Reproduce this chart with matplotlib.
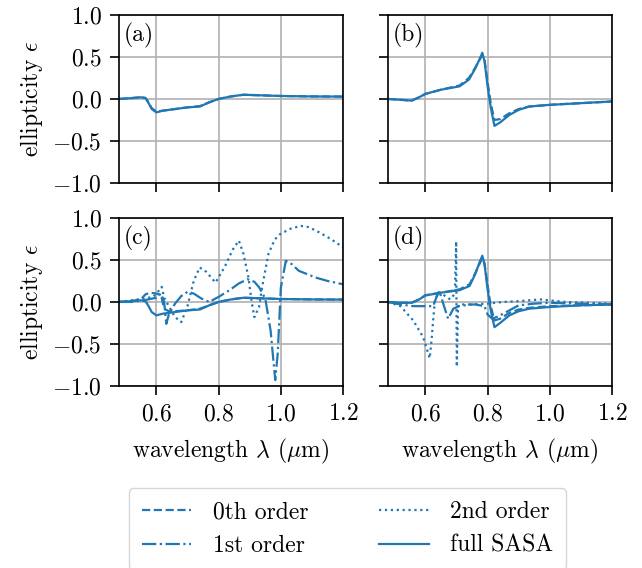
import numpy as np
import matplotlib
matplotlib.use('Agg')
import matplotlib.pyplot as plt

plt.rcParams['font.family'] = ['cmr10', 'DejaVu Serif']
plt.rcParams['mathtext.fontset'] = 'cm'
plt.rcParams['axes.formatter.use_mathtext'] = True
plt.rcParams['font.size'] = 17

blue = '#1f77b4'

# (a)
xa = [0.48, 0.52, 0.55, 0.565, 0.575, 0.585, 0.6, 0.62, 0.66, 0.70, 0.74, 0.77, 0.80, 0.84, 0.88, 0.92, 0.96, 1.0, 1.1, 1.2]
a_full = [0.0, 0.01, 0.02, 0.01, -0.05, -0.12, -0.16, -0.14, -0.12, -0.10, -0.09, -0.04, 0.0, 0.03, 0.05, 0.045, 0.04, 0.035, 0.03, 0.028]
a_0th = [0.0, 0.01, 0.02, 0.012, -0.04, -0.11, -0.15, -0.14, -0.12, -0.10, -0.085, -0.04, 0.0, 0.03, 0.05, 0.045, 0.04, 0.035, 0.03, 0.028]

# (b)
xb = [0.48, 0.52, 0.556, 0.58, 0.60, 0.65, 0.71, 0.74, 0.76, 0.775, 0.783, 0.79, 0.80, 0.81, 0.822, 0.84, 0.87, 0.90, 0.934, 1.0, 1.1, 1.2]
b_full = [0.0, -0.01, -0.02, 0.02, 0.06, 0.11, 0.15, 0.23, 0.36, 0.48, 0.55, 0.45, 0.15, -0.10, -0.32, -0.28, -0.19, -0.13, -0.09, -0.07, -0.05, -0.03]
b_0th = [0.0, -0.01, -0.02, 0.02, 0.06, 0.11, 0.16, 0.25, 0.37, 0.47, 0.52, 0.47, 0.20, -0.05, -0.25, -0.24, -0.17, -0.12, -0.09, -0.07, -0.05, -0.03]

# (c)
xc = xa
c_full = a_full
xc0 = [0.48, 0.52, 0.55, 0.565, 0.58, 0.60, 0.615, 0.625, 0.64, 0.66, 0.70, 0.74, 0.77, 0.80, 0.84, 0.88, 0.92, 0.96, 1.0, 1.1, 1.2]
c_0th = [0.0, 0.01, 0.03, 0.09, 0.11, 0.10, 0.08, -0.08, -0.11, -0.11, -0.10, -0.08, -0.04, 0.0, 0.03, 0.05, 0.045, 0.04, 0.035, 0.03, 0.028]
xc1 = [0.48, 0.52, 0.56, 0.60, 0.615, 0.625, 0.632, 0.64, 0.66, 0.68, 0.70, 0.72, 0.745, 0.77, 0.80, 0.835, 0.865, 0.893, 0.915, 0.93, 0.95, 0.967, 0.982, 0.99, 1.0, 1.016, 1.035, 1.058, 1.112, 1.15, 1.2]
c_1st = [0.0, 0.0, 0.02, 0.05, 0.1, 0.0, -0.26, -0.15, -0.02, 0.07, 0.12, 0.1, 0.04, 0.0, 0.06, 0.14, 0.22, 0.27, 0.24, 0.175, 0.04, -0.34, -0.93, -0.61, 0.17, 0.49, 0.45, 0.37, 0.29, 0.25, 0.21]
xc2 = [0.48, 0.52, 0.56, 0.59, 0.605, 0.617, 0.625, 0.64, 0.66, 0.68, 0.70, 0.72, 0.739, 0.76, 0.79, 0.82, 0.845, 0.865, 0.88, 0.896, 0.907, 0.915, 0.93, 0.94, 0.96, 0.98, 0.995, 1.03, 1.064, 1.09, 1.122, 1.16, 1.2]
c_2nd = [0.0, 0.02, 0.04, 0.06, 0.12, 0.18, 0.05, -0.05, -0.18, -0.24, -0.05, 0.25, 0.41, 0.36, 0.23, 0.42, 0.62, 0.73, 0.57, 0.29, -0.02, -0.18, -0.06, 0.18, 0.57, 0.74, 0.80, 0.87, 0.905, 0.89, 0.83, 0.75, 0.65]

# (d)
xd = [0.48, 0.52, 0.556, 0.58, 0.60, 0.65, 0.71, 0.742, 0.76, 0.775, 0.783, 0.79, 0.80, 0.81, 0.822, 0.84, 0.87, 0.90, 0.934, 1.0, 1.1, 1.2]
d_full = [0.0, -0.01, -0.01, 0.03, 0.077, 0.11, 0.14, 0.19, 0.33, 0.48, 0.55, 0.45, 0.15, -0.1, -0.30, -0.25, -0.16, -0.11, -0.08, -0.06, -0.04, -0.03]
d_0th = [0.0, -0.01, -0.01, 0.03, 0.08, 0.11, 0.15, 0.21, 0.34, 0.46, 0.52, 0.46, 0.2, -0.05, -0.22, -0.2, -0.13, -0.09, -0.07, -0.05, -0.04, -0.03]
xd1 = [0.48, 0.52, 0.56, 0.60, 0.625, 0.635, 0.645, 0.66, 0.673, 0.69, 0.72, 0.76, 0.79, 0.80, 0.815, 0.835, 0.86, 0.9, 0.95, 1.0, 1.1, 1.2]
d_1st = [0.0, -0.03, -0.05, -0.05, -0.05, 0.05, 0.13, -0.05, -0.2, -0.08, -0.03, -0.03, -0.05, -0.15, -0.2, -0.17, -0.12, -0.04, -0.02, -0.01, -0.02, -0.03]
xd2 = [0.48, 0.52, 0.561, 0.593, 0.614, 0.62, 0.625, 0.63, 0.641, 0.66, 0.68, 0.695, 0.699, 0.701, 0.705, 0.75, 0.8, 0.85, 0.9, 0.97, 1.05, 1.2]
d_2nd = [0.0, -0.05, -0.22, -0.42, -0.67, -0.45, -0.22, 0.0, 0.12, 0.08, 0.03, 0.10, 0.72, -0.77, -0.05, -0.03, -0.02, 0.0, 0.01, 0.03, 0.0, -0.02]

fig = plt.figure(figsize=(6.42, 5.68), dpi=100)
w, h = 0.349, 0.296
axa = fig.add_axes([0.1854, 0.6778, w, h])
axb = fig.add_axes([0.6044, 0.6778, w, h])
axc = fig.add_axes([0.1854, 0.3204, w, h])
axd = fig.add_axes([0.6044, 0.3204, w, h])

lw = 1.6
axa.plot(xa, a_0th, '--', color=blue, lw=lw)
axa.plot(xa, a_full, '-', color=blue, lw=lw)
axb.plot(xb, b_0th, '--', color=blue, lw=lw)
axb.plot(xb, b_full, '-', color=blue, lw=lw)
axc.plot(xc0, c_0th, '--', color=blue, lw=lw)
axc.plot(xc1, c_1st, '-.', color=blue, lw=lw)
axc.plot(xc2, c_2nd, ':', color=blue, lw=lw)
axc.plot(xc, c_full, '-', color=blue, lw=lw)
l0, = axd.plot(xd, d_0th, '--', color=blue, lw=lw, label='0th order')
l1, = axd.plot(xd1, d_1st, '-.', color=blue, lw=lw, label='1st order')
l2, = axd.plot(xd2, d_2nd, ':', color=blue, lw=lw, label='2nd order')
l3, = axd.plot(xd, d_full, '-', color=blue, lw=lw, label='full SASA')

for ax, lab in zip([axa, axb, axc, axd], ['(a)', '(b)', '(c)', '(d)']):
    ax.set_xlim(0.48, 1.2)
    ax.set_ylim(-1, 1)
    ax.set_xticks([0.6, 0.8, 1.0, 1.2])
    ax.set_yticks([-1.0, -0.5, 0.0, 0.5, 1.0])
    ax.grid(True, color='#b0b0b0', lw=1.2)
    ax.set_axisbelow(True)
    ax.text(0.02, 0.95, lab, transform=ax.transAxes, va='top', ha='left')
    ax.tick_params(axis='x', length=6.5, width=1.2, pad=6)
    ax.tick_params(axis='y', length=6.5, width=1.2, pad=6)
    for s in ax.spines.values():
        s.set_linewidth(1.2)

axa.tick_params(labelbottom=False)
axb.tick_params(labelbottom=False, labelleft=False)
axd.tick_params(labelleft=False)
axa.set_ylabel(r'ellipticity $\epsilon$', labelpad=5)
axc.set_ylabel(r'ellipticity $\epsilon$', labelpad=5)
axc.set_xlabel(r'wavelength $\lambda$ ($\mu$m)', labelpad=8)
axd.set_xlabel(r'wavelength $\lambda$ ($\mu$m)', labelpad=8)

fig.legend(handles=[l0, l1, l2, l3], ncol=2, loc='upper center',
           bbox_to_anchor=(0.541, 0.141), borderaxespad=0, borderpad=0.55,
           handlelength=2.1, handletextpad=0.9, columnspacing=3.0,
           fontsize=17, edgecolor='#cccccc', fancybox=True)

fig.savefig('out.png', dpi=100)
